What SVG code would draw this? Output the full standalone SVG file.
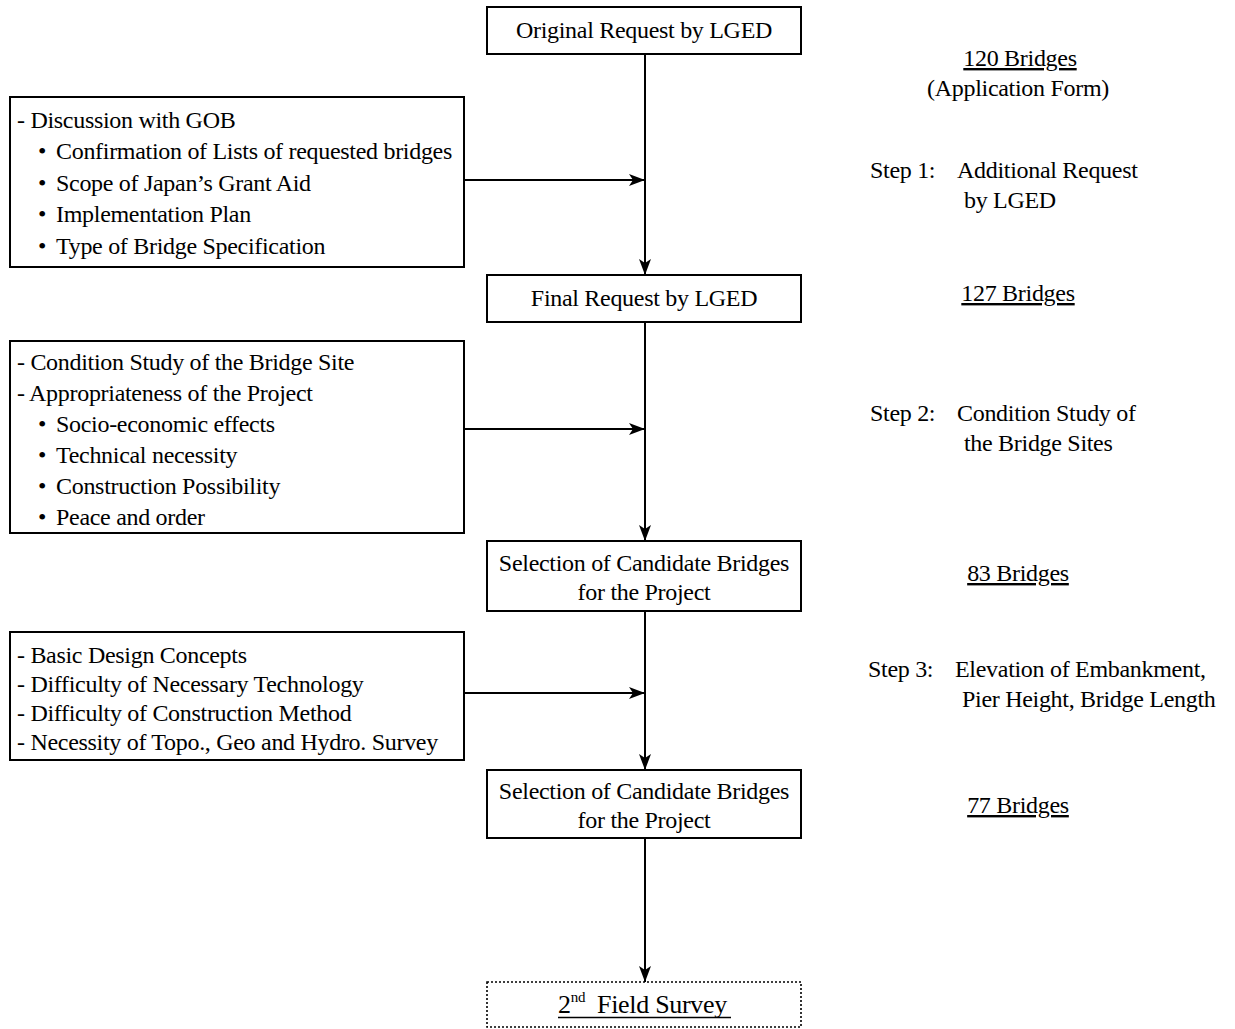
<svg xmlns="http://www.w3.org/2000/svg" width="1235" height="1029" viewBox="0 0 1235 1029">
<defs>
<marker id="ah" viewBox="0 0 16 12" refX="16" refY="6" markerWidth="16" markerHeight="12" markerUnits="userSpaceOnUse" orient="auto">
<path d="M0,0 L16,6 L0,12 L4,6 Z" fill="#000"/>
</marker>
<style>
text{font-family:"Liberation Serif","Times New Roman",serif;font-size:24px;fill:#000;letter-spacing:-0.3px}
.c{text-anchor:middle}
.box{fill:#fff;stroke:#000;stroke-width:2}
.dot{fill:#fff;stroke:#000;stroke-width:1.6;stroke-dasharray:2 2}
.ln{fill:none;stroke:#000;stroke-width:2}
.ul{stroke:#000;stroke-width:1.3}
.u{text-decoration:underline}
</style>
</defs>
<rect width="1235" height="1029" fill="#fff"/>
<g id="connectors">
<line class="ln" x1="645" y1="54" x2="645" y2="275" marker-end="url(#ah)"/>
<line class="ln" x1="645" y1="322" x2="645" y2="541" marker-end="url(#ah)"/>
<line class="ln" x1="645" y1="611" x2="645" y2="770" marker-end="url(#ah)"/>
<line class="ln" x1="645" y1="838" x2="645" y2="982" marker-end="url(#ah)"/>
<line class="ln" x1="464" y1="180" x2="645" y2="180" marker-end="url(#ah)"/>
<line class="ln" x1="464" y1="429" x2="645" y2="429" marker-end="url(#ah)"/>
<line class="ln" x1="464" y1="693" x2="645" y2="693" marker-end="url(#ah)"/>
</g>
<g id="n-original">
<rect class="box" x="487" y="7" width="314" height="47"/>
<text class="c" x="644" y="38">Original Request by LGED</text>
</g>
<g id="n-final">
<rect class="box" x="487" y="275" width="314" height="47"/>
<text class="c" x="644" y="306">Final Request by LGED</text>
</g>
<g id="n-sel1">
<rect class="box" x="487" y="541" width="314" height="70"/>
<text class="c" x="644" y="571">Selection of Candidate Bridges</text>
<text class="c" x="644" y="600">for the Project</text>
</g>
<g id="n-sel2">
<rect class="box" x="487" y="770" width="314" height="68"/>
<text class="c" x="644" y="799">Selection of Candidate Bridges</text>
<text class="c" x="644" y="828">for the Project</text>
</g>
<g id="n-survey">
<rect class="dot" x="487" y="982" width="314" height="45"/>
<text x="558" y="1013" style="font-size:26px">2<tspan style="font-size:15px" dy="-11">nd</tspan><tspan dy="11" x="597">Field Survey</tspan></text>
<line class="ul" x1="558" y1="1017.5" x2="731" y2="1017.5"/>
</g>
<g id="n-discussion">
<rect class="box" x="10" y="97" width="454" height="170"/>
<text x="17" y="128">- Discussion with GOB</text>
<text x="38" y="159">•<tspan x="56">Confirmation of Lists of requested bridges</tspan></text>
<text x="38" y="191">•<tspan x="56">Scope of Japan’s Grant Aid</tspan></text>
<text x="38" y="222">•<tspan x="56">Implementation Plan</tspan></text>
<text x="38" y="254">•<tspan x="56">Type of Bridge Specification</tspan></text>
</g>
<g id="n-condition">
<rect class="box" x="10" y="341" width="454" height="192"/>
<text x="17" y="370">- Condition Study of the Bridge Site</text>
<text x="17" y="401">- Appropriateness of the Project</text>
<text x="38" y="432">•<tspan x="56">Socio-economic effects</tspan></text>
<text x="38" y="463">•<tspan x="56">Technical necessity</tspan></text>
<text x="38" y="494">•<tspan x="56">Construction Possibility</tspan></text>
<text x="38" y="525">•<tspan x="56">Peace and order</tspan></text>
</g>
<g id="n-design">
<rect class="box" x="10" y="632" width="454" height="128"/>
<text x="17" y="663">- Basic Design Concepts</text>
<text x="17" y="692">- Difficulty of Necessary Technology</text>
<text x="17" y="721">- Difficulty of Construction Method</text>
<text x="17" y="750">- Necessity of Topo., Geo and Hydro. Survey</text>
</g>
<g id="notes">
<text class="c u" x="1020" y="66">120 Bridges</text>
<text class="c" x="1018" y="96">(Application Form)</text>
<text x="870" y="178">Step 1:</text>
<text x="957" y="178">Additional Request</text>
<text x="964" y="208">by LGED</text>
<text class="c u" x="1018" y="301">127 Bridges</text>
<text x="870" y="421">Step 2:</text>
<text x="957" y="421">Condition Study of</text>
<text x="964" y="451">the Bridge Sites</text>
<text class="c u" x="1018" y="581">83 Bridges</text>
<text x="868" y="677">Step 3:</text>
<text x="955" y="677">Elevation of Embankment,</text>
<text x="962" y="707">Pier Height, Bridge Length</text>
<text class="c u" x="1018" y="813">77 Bridges</text>
</g>
</svg>
